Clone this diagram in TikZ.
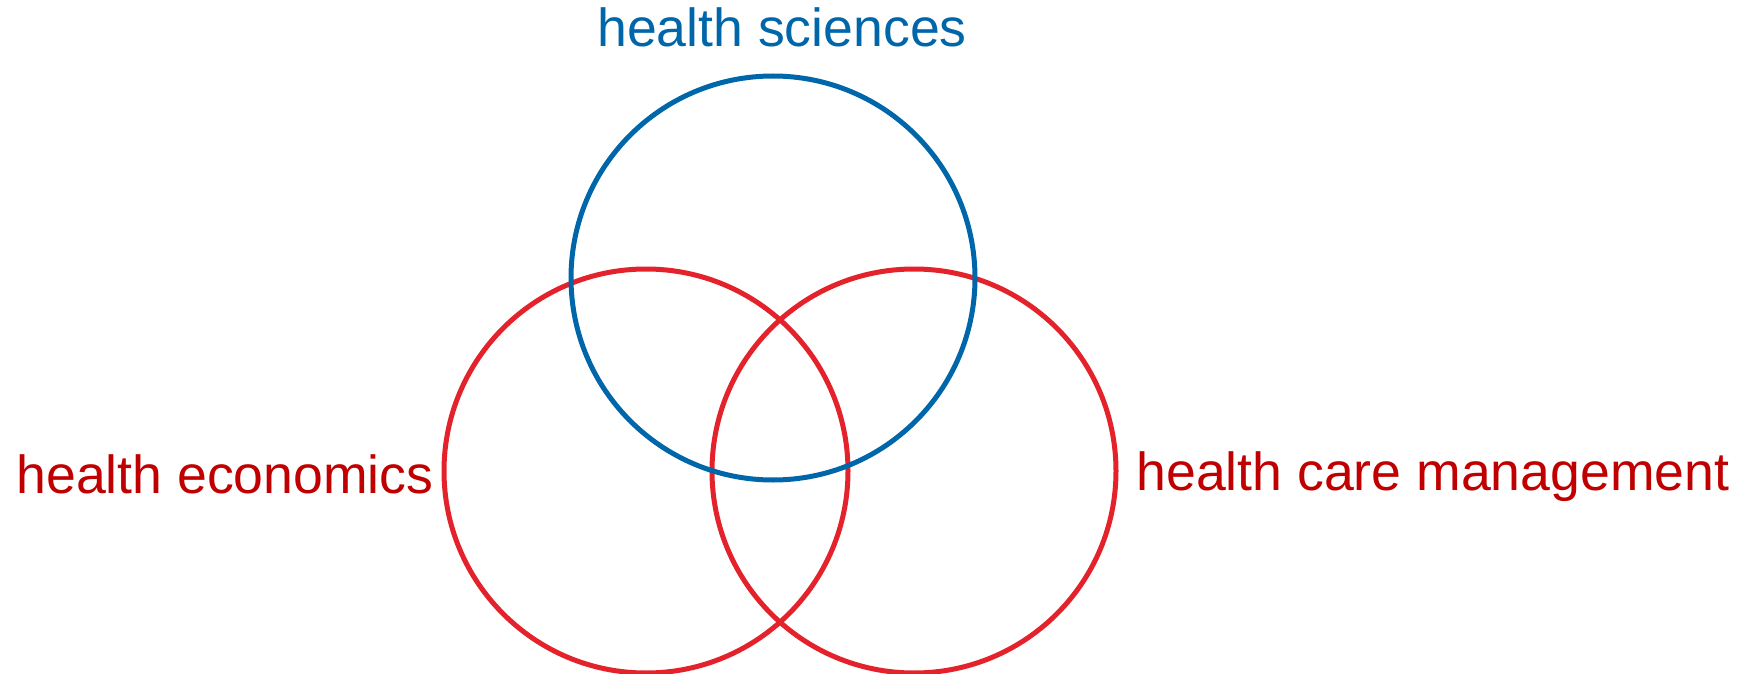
\documentclass[tikz,border=0pt]{standalone}
\usepackage{fontspec}
\setmainfont{Liberation Sans}
\definecolor{sciblue}{HTML}{0066AA}
\definecolor{ringred}{HTML}{E3222B}
\definecolor{labelred}{HTML}{C00000}
\begin{document}
\begin{tikzpicture}[x=0.5pt, y=-0.5pt,
    ring/.style={circle, draw, line width=2.5pt, inner sep=0pt, minimum size=202pt},
    lbl/.style={inner sep=0pt, font=\fontsize{26.8pt}{30pt}\selectfont}]
    \useasboundingbox (0, 0) rectangle (1741, 674);

    \def\r{202};
    \def\yt{278};
    \def\yb{471};

% the two red rings first, blue on top
    \node[ring, ringred] (econ) at (646, \yb) {};
    \node[ring, ringred] (mgmt) at (914, \yb) {};
    \node[ring, sciblue] (sci) at (773, \yt) {};

    \node[lbl, sciblue, anchor=base] (scilbl) at (782, 47) {health sciences};
    \node[lbl, labelred, anchor=base west] (econlbl) at (16, 493) {health economics};
    \node[lbl, labelred, anchor=base west] (mgmtlbl) at (1136, 490) {health care management};
\end{tikzpicture}
\end{document}
